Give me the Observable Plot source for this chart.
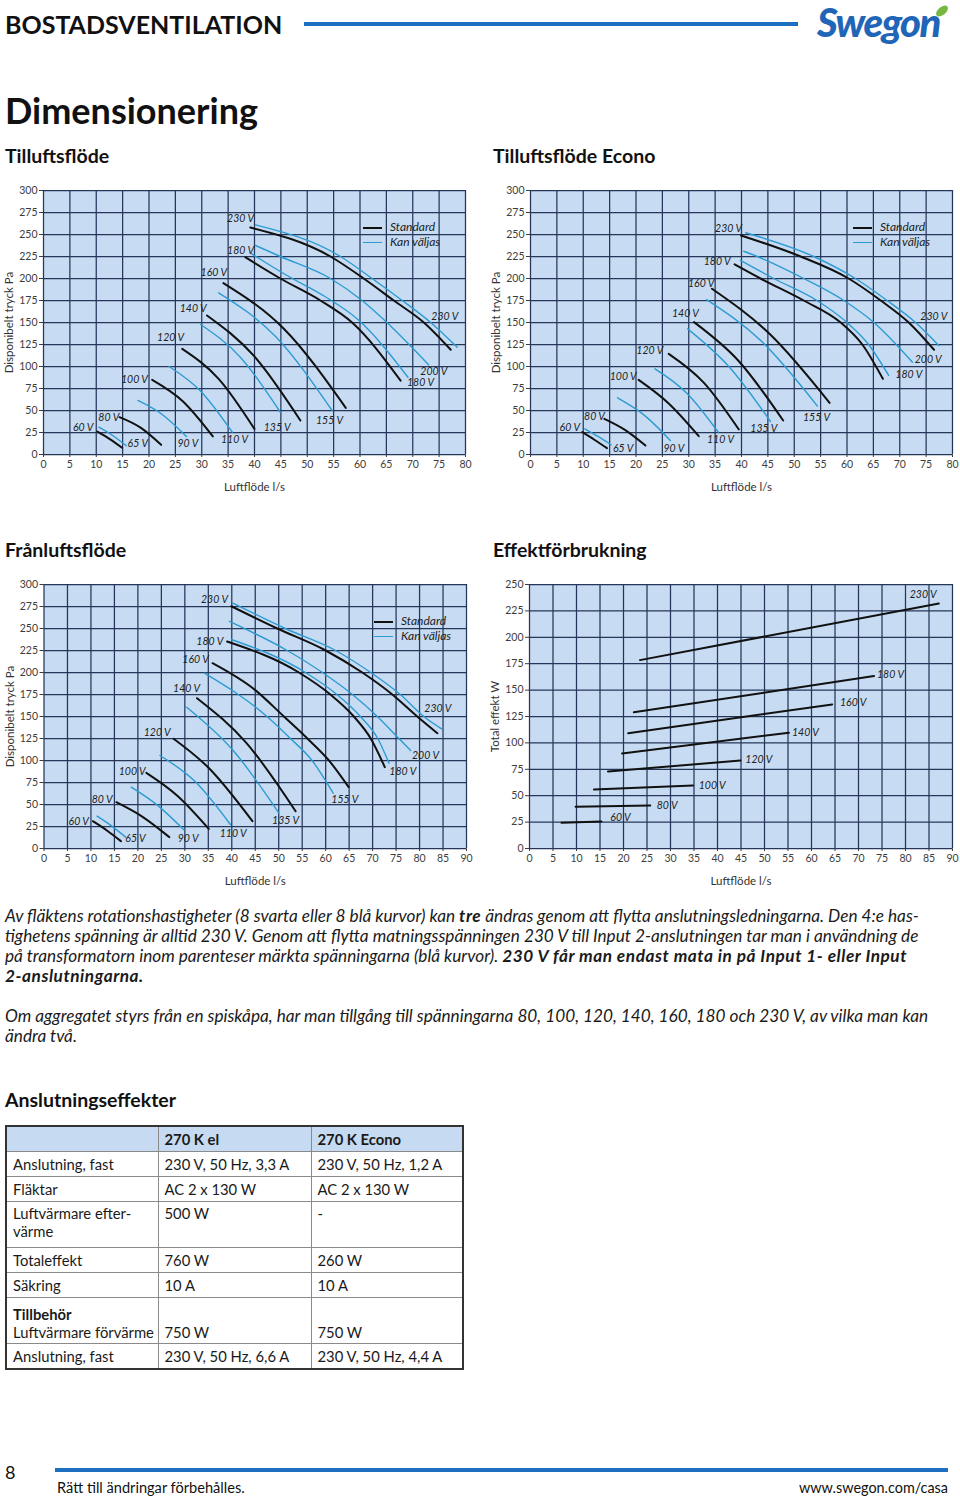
<!DOCTYPE html>
<html><head><meta charset="utf-8">
<script src="https://cdn.jsdelivr.net/npm/d3@7"></script>
<script src="https://cdn.jsdelivr.net/npm/@observablehq/plot@0.6"></script>
<style>
html,body{margin:0;padding:0;background:#fff;}
body{width:960px;height:1497px;position:relative;overflow:hidden;font-family:Lato,"Open Sans",sans-serif;color:#1a1a1a;}
.a{position:absolute;white-space:nowrap;}
.h2{font-weight:700;font-size:19.5px;line-height:24px;color:#111;}
.p{font-style:italic;font-size:17.2px;line-height:20px;color:#1a1a1a;}
.p b{letter-spacing:0.55px;}
.leg{position:absolute;font-style:italic;font-size:12px;color:#222;line-height:15px;}
.leg i{display:inline-block;width:19px;vertical-align:middle;margin-right:8px;}
table{border-collapse:collapse;font-size:14.8px;color:#1a1a1a;table-layout:fixed;}
td{border:1px solid #8a8a8a;padding:0 6px;height:24px;vertical-align:middle;line-height:18px;}
tr.hd td{background:#c6dbf1;font-weight:700;}
</style></head>
<body>
<div class="a" style="left:5px;top:9px;font-size:25px;line-height:30px;font-weight:700;color:#111;">BOSTADSVENTILATION</div>
<div class="a" style="left:304px;top:22px;width:494px;height:4px;background:#1d6fc1;"></div>
<div class="a" style="left:817px;top:2px;font-size:40px;line-height:40px;font-weight:900;font-style:italic;color:#1f66b8;letter-spacing:-1.5px;">Swegon</div>
<div class="a" style="left:935px;top:7px;width:14px;height:8px;border-radius:50%;background:#77b843;transform:rotate(-40deg);"></div>
<div class="a" style="left:5px;top:88px;font-size:36px;line-height:44px;font-weight:700;color:#111;">Dimensionering</div>
<div class="a h2" style="left:5px;top:144px;">Tilluftsflöde</div>
<div class="a h2" style="left:493px;top:144px;">Tilluftsflöde Econo</div>
<div class="a h2" style="left:5px;top:538px;">Frånluftsflöde</div>
<div class="a h2" style="left:493px;top:538px;">Effektförbrukning</div>

<div id="c1" class="a" style="left:0;top:180px;"></div>
<div id="c2" class="a" style="left:490px;top:180px;"></div>
<div id="c3" class="a" style="left:0;top:574px;"></div>
<div id="c4" class="a" style="left:489px;top:574px;"></div>

<div class="leg" style="left:363px;top:219px;"><i style="border-top:2px solid #111;"></i>Standard<br><i style="border-top:1.4px solid #2b9bd3;"></i>Kan väljas</div>
<div class="leg" style="left:853px;top:219px;"><i style="border-top:2px solid #111;"></i>Standard<br><i style="border-top:1.4px solid #2b9bd3;"></i>Kan väljas</div>
<div class="leg" style="left:374px;top:613px;"><i style="border-top:2px solid #111;"></i>Standard<br><i style="border-top:1.4px solid #2b9bd3;"></i>Kan väljas</div>

<div class="a p" style="left:5px;top:906px;">Av fläktens rotationshastigheter (8 svarta eller 8 blå kurvor) kan <b>tre</b> ändras genom att flytta anslutningsledningarna. Den 4:e has-</div>
<div class="a p" style="left:5px;top:926px;">tighetens spänning är alltid 230 V. Genom att flytta matningsspänningen 230 V till Input 2-anslutningen tar man i användning de</div>
<div class="a p" style="left:5px;top:946px;">på transformatorn inom parenteser märkta spänningarna (blå kurvor). <b>230 V får man endast mata in på Input 1- eller Input</b></div>
<div class="a p" style="left:5px;top:966px;"><b>2-anslutningarna.</b></div>
<div class="a p" style="left:5px;top:1006px;">Om aggregatet styrs från en spiskåpa, har man tillgång till spänningarna 80, 100, 120, 140, 160, 180 och 230 V, av vilka man kan</div>
<div class="a p" style="left:5px;top:1026px;">ändra två.</div>

<div class="a h2" style="left:5px;top:1088px;">Anslutningseffekter</div>
<table id="tbl" class="a" style="left:5px;top:1125px;width:457px;border:2px solid #333;"></table>

<div class="a" style="left:5px;top:1460px;font-size:18px;line-height:24px;color:#111;">8</div>
<div class="a" style="left:55px;top:1468px;width:893px;height:4px;background:#1d6fc1;"></div>
<div class="a" style="left:57px;top:1479px;font-size:14.6px;line-height:18px;color:#111;">Rätt till ändringar förbehålles.</div>
<div class="a" style="right:12px;top:1479px;font-size:14.4px;line-height:18px;color:#111;">www.swegon.com/casa</div>

<script>
// ---------- data ----------
const xTicks80 = [0,5,10,15,20,25,30,35,40,45,50,55,60,65,70,75,80];
const xTicks90 = [0,5,10,15,20,25,30,35,40,45,50,55,60,65,70,75,80,85,90];
const yTicksPa = [0,25,50,75,100,125,150,175,200,225,250,275,300];
const yTicksW  = [0,25,50,75,100,125,150,175,200,225,250];
const xTitle = "Luftflöde l/s";
const yTitlePa = "Disponibelt tryck Pa";
const yTitleW = "Total effekt W";

// Tilluftsflöde: [volt, kind, points [flow l/s, pressure Pa]]
const tilluftCurves = [
  [60,"std",[[10.2,26],[12.5,17.8],[14.9,7.6]]],
  [65,"opt",[[10.5,31],[13.1,21.6],[15.7,10]]],
  [80,"std",[[14.4,42.4],[18.4,30.5],[22.3,11]]],
  [90,"opt",[[17.9,61.4],[22.5,45.5],[27.1,20.5]]],
  [100,"std",[[20.6,84.8],[26.4,60.5],[32.1,20.5]]],
  [110,"opt",[[23.8,100],[29.8,72],[35.8,25.4]]],
  [120,"std",[[26.3,120],[33.2,86],[40,29]]],
  [135,"opt",[[29.8,147.7],[37.4,110],[44.9,48]]],
  [140,"std",[[31,158],[39.9,112],[48.7,38.6]]],
  [155,"opt",[[33.2,183.7],[44,134],[54.7,50]]],
  [160,"std",[[34.1,194.7],[45.7,142],[57.3,53]]],
  [180,"std",[[38.3,224],[44.9,200],[52.5,175],[58.5,150],[67.7,84]]],
  [180,"opt",[[39.5,228],[46,204],[53.5,179],[59.5,154],[69.1,87.8]]],
  [200,"opt",[[40.2,237.5],[44.9,225],[54.4,200],[60.4,175],[65.1,150],[73,102]]],
  [230,"std",[[39.2,258],[54.4,225],[60.7,200],[66.4,175],[72.1,150],[77.2,119]]],
  [230,"opt",[[40.2,261],[56.3,225],[62.3,200],[68,175],[73.4,150],[78.4,122]]]
];
const tilluftLabels = [
  ["60 V",7.53,31],["65 V",17.88,12.8],["80 V",12.38,42.4],["90 V",27.36,12.8],
  ["100 V",17.25,84.9],["110 V",36.21,17],["120 V",24.08,132.6],["135 V",44.3,31],
  ["140 V",28.38,165.6],["155 V",54.22,38.6],["160 V",32.28,207.2],["180 V",37.35,231.8],
  ["230 V",37.35,267.8],["230 V",76.08,156.8],["200 V",73.99,94.7],["180 V",71.47,81.8]
];

// Tilluftsflöde Econo
const econoCurves = [
  [60,"std",[[9.8,25.4],[12.1,16.8],[14.5,7.2]]],
  [65,"opt",[[10.3,29.2],[12.8,20.5],[15.3,11]]],
  [80,"std",[[14,40.5],[17.9,28],[21.8,10.2]]],
  [90,"opt",[[16.5,64.4],[21.5,45],[26.5,15.9]]],
  [100,"std",[[20.5,84.8],[26.2,58],[31.9,20.8]]],
  [110,"opt",[[23.6,97.4],[29.6,70],[35.6,25.4]]],
  [120,"std",[[26.2,114.4],[32.8,82],[39.5,28.4]]],
  [135,"opt",[[29.8,142.8],[37.6,100],[45.5,37.5]]],
  [140,"std",[[31,150.4],[39.5,106],[47.9,38.6]]],
  [155,"opt",[[33.4,176],[43.9,128],[54.4,55]]],
  [160,"std",[[34.4,188.3],[45.5,136],[56.7,58.7]]],
  [180,"std",[[38.7,216],[43.6,200],[51.8,175],[58.8,150],[62.9,125],[66.8,86]]],
  [180,"opt",[[39.8,220.5],[46.1,200],[54.3,175],[60,150],[64.1,125],[67.9,89.8]]],
  [200,"opt",[[40.4,231],[43,225],[51.8,200],[59.4,175],[65.1,150],[72.4,104.9]]],
  [230,"std",[[39.9,248.9],[51.2,225],[60.3,200],[66.4,175],[71.7,150],[76.5,119]]],
  [230,"opt",[[40.8,252],[53.7,225],[61.6,200],[67.6,175],[73,150],[77.4,123.9]]]
];
const econoLabels = [
  ["60 V",7.45,31],["65 V",17.57,7.2],["80 V",12.13,43.5],["90 V",27.17,7.2],
  ["100 V",17.57,88.6],["110 V",36.02,16.7],["120 V",22.62,118.2],["135 V",44.23,29.9],
  ["140 V",29.38,159.9],["155 V",54.22,42.4],["160 V",32.36,194.7],["180 V",35.39,219.7],
  ["230 V",37.54,256.8],["230 V",76.46,156.8],["200 V",75.39,107.6],["180 V",71.72,90.9]
];

// Frånluftsflöde
const franCurves = [
  [60,"std",[[10.4,31],[13.4,20.5],[16.4,8.3]]],
  [65,"opt",[[11.3,36.7],[14.3,26],[17.4,12.9]]],
  [80,"std",[[15.4,52.6],[21,36],[26.7,12.9]]],
  [90,"opt",[[18.6,69.7],[24.2,49],[29.8,21.2]]],
  [100,"std",[[21.8,86],[28.4,60],[35.1,22.3]]],
  [110,"opt",[[24.7,105.7],[32.2,76],[39.7,27.3]]],
  [120,"std",[[27.6,124.7],[35,92],[44.4,31]]],
  [135,"opt",[[30.4,160.6],[40.2,112],[50,40.6]]],
  [140,"std",[[32.6,170.8],[43.1,120],[53.6,42.4]]],
  [155,"opt",[[34.2,199.2],[47.5,150],[52.5,125],[57.1,100],[61.6,62.9]]],
  [160,"std",[[35.9,210.6],[45,180],[51.1,150],[56.1,125],[60.7,100],[64.9,69.7]]],
  [180,"std",[[39,235.2],[54.3,200],[61,175],[66,150],[69.6,125],[72.6,92.4]]],
  [180,"opt",[[39.9,237.5],[55.7,200],[62.4,175],[67.4,150],[71.1,125],[73.5,96.9]]],
  [200,"opt",[[39.5,258],[51.8,225],[59.3,200],[65.7,175],[71,150],[75.6,125],[78.1,111.4]]],
  [230,"std",[[39.9,275.3],[49.7,250],[60,225],[67.8,200],[74.2,175],[79.5,150],[83.8,131]]],
  [230,"opt",[[40.2,278.8],[51.4,250],[62.1,225],[69.6,200],[75.9,175],[80.9,150],[84.7,136]]]
];
const franLabels = [
  ["60 V",7.41,31],["65 V",19.49,11],["80 V",12.4,55.3],["90 V",30.72,11],
  ["100 V",18.79,87.5],["110 V",40.31,16.7],["120 V",24.12,131.5],["140 V",30.36,181.5],
  ["160 V",32.28,214.4],["180 V",35.32,235.6],["230 V",36.32,282.6],["135 V",51.45,31.8],
  ["155 V",64.08,55.3],["180 V",76.44,87.5],["200 V",81.27,105.7],["230 V",83.89,159.4]
];

// Effektförbrukning: [volt, points [flow l/s, power W]]
const effektLines = [
  [60,[[6.8,24.3],[15.3,25.6]]],
  [80,[[9.8,39.5],[25.7,40.7]]],
  [100,[[13.7,55.9],[34.8,59.7]]],
  [120,[[16.7,72.9],[44.9,83.3]]],
  [140,[[19.7,90],[55.2,109.6]]],
  [160,[[21,109.2],[64.4,136.4]]],
  [180,[[22.2,129],[73.3,163.3]]],
  [230,[[23.5,178.4],[87.1,232]]]
];
const effektLabels = [
  ["60 V",19.36,29.6],["80 V",29.3,40.4],["100 V",38.87,59.7],["120 V",48.79,84],
  ["140 V",58.72,109.6],["160 V",68.87,138],["180 V",76.81,164.5],["230 V",83.77,240.2]
];

// Tabell
const tableHead = ["", "270 K el", "270 K Econo"];
const tableRows = [
  ["Anslutning, fast","230 V, 50 Hz, 3,3 A","230 V, 50 Hz, 1,2 A"],
  ["Fläktar","AC 2 x 130 W","AC 2 x 130 W"],
  ["Luftvärmare efter-<br>värme","500 W","-"],
  ["Totaleffekt","760 W","260 W"],
  ["Säkring","10 A","10 A"],
  ["<b>Tillbehör</b><br>Luftvärmare förvärme","750 W","750 W"],
  ["Anslutning, fast","230 V, 50 Hz, 6,6 A","230 V, 50 Hz, 4,4 A"]
];

// ---------- drawing ----------
const BG = "#c7dcf2", GRID = "#26365a", BLACK = "#111", BLUE = "#2b9bd3";
const FONT = 'Lato, "Open Sans", sans-serif';

function chart(o) {
  const rows = o.curves.flatMap((c, i) => c[c.length-1].map(([x, y]) => ({x, y, id: i, kind: c.length === 3 ? c[1] : "std"})));
  const labs = o.labels.map(([t, x, y]) => ({t, x, y}));
  return Plot.plot({
    width: o.width, height: o.height,
    marginLeft: o.ml, marginRight: o.mr, marginTop: o.mt, marginBottom: o.mb,
    style: {fontFamily: FONT, fontSize: "10.5px", color: "#3d3d3d", background: "none", overflow: "visible"},
    x: {domain: [0, o.xTicks[o.xTicks.length-1]], ticks: o.xTicks, tickSize: 3, tickPadding: 3, label: null},
    y: {domain: [0, o.yTicks[o.yTicks.length-1]], ticks: o.yTicks, tickSize: 4, tickPadding: 2, label: null},
    marks: [
      Plot.frame({fill: BG, stroke: null}),
      Plot.ruleX(o.xTicks, {stroke: GRID, strokeWidth: 1.25}),
      Plot.ruleY(o.yTicks, {stroke: GRID, strokeWidth: 1.25}),
      Plot.line(rows.filter(d => d.kind === "opt"), {x: "x", y: "y", z: "id", stroke: BLUE, strokeWidth: 1.4, curve: "monotone-x"}),
      Plot.line(rows.filter(d => d.kind === "std"), {x: "x", y: "y", z: "id", stroke: BLACK, strokeWidth: 2, curve: "monotone-x"}),
      Plot.text(labs, {x: "x", y: "y", text: "t", fontStyle: "italic", fontSize: 10.5, fill: "#222"}),
      Plot.text([xTitle], {frameAnchor: "bottom", text: d => d, dy: 33, lineAnchor: "middle", fontSize: 11.5, fill: "#333"}),
      Plot.text([o.yTitle], {frameAnchor: "left", text: d => d, rotate: -90, textAnchor: "middle", lineAnchor: "middle", dx: -34, fontSize: 11.5, fill: "#333"})
    ]
  });
}

document.getElementById("c1").append(chart({curves: tilluftCurves, labels: tilluftLabels, xTicks: xTicks80, yTicks: yTicksPa, yTitle: yTitlePa, width: 480, height: 320, ml: 43, mr: 15, mt: 10, mb: 46}));
document.getElementById("c2").append(chart({curves: econoCurves, labels: econoLabels, xTicks: xTicks80, yTicks: yTicksPa, yTitle: yTitlePa, width: 470, height: 320, ml: 40, mr: 8, mt: 10, mb: 46}));
document.getElementById("c3").append(chart({curves: franCurves, labels: franLabels, xTicks: xTicks90, yTicks: yTicksPa, yTitle: yTitlePa, width: 480, height: 320, ml: 43.5, mr: 14, mt: 10, mb: 46}));
document.getElementById("c4").append(chart({curves: effektLines, labels: effektLabels, xTicks: xTicks90, yTicks: yTicksW, yTitle: yTitleW, width: 471, height: 320, ml: 40, mr: 8, mt: 10, mb: 46}));

const tbl = document.getElementById("tbl");
const widths = [152, 153, 152];
let html = "<colgroup>" + widths.map(w => `<col style="width:${w}px">`).join("") + "</colgroup>";
html += '<tr class="hd">' + tableHead.map(h => `<td>${h}</td>`).join("") + "</tr>";
tableRows.forEach((r, i) => {
  const two = r[0].includes("<br>");
  const va = i === 5 ? "bottom" : (two ? "top" : "middle");
  html += "<tr>" + r.map(c => `<td style="vertical-align:${va};${two ? 'height:41px;padding-top:2px;padding-bottom:2px;' : ''}">${c}</td>`).join("") + "</tr>";
});
tbl.innerHTML = html;
</script>
</body></html>
